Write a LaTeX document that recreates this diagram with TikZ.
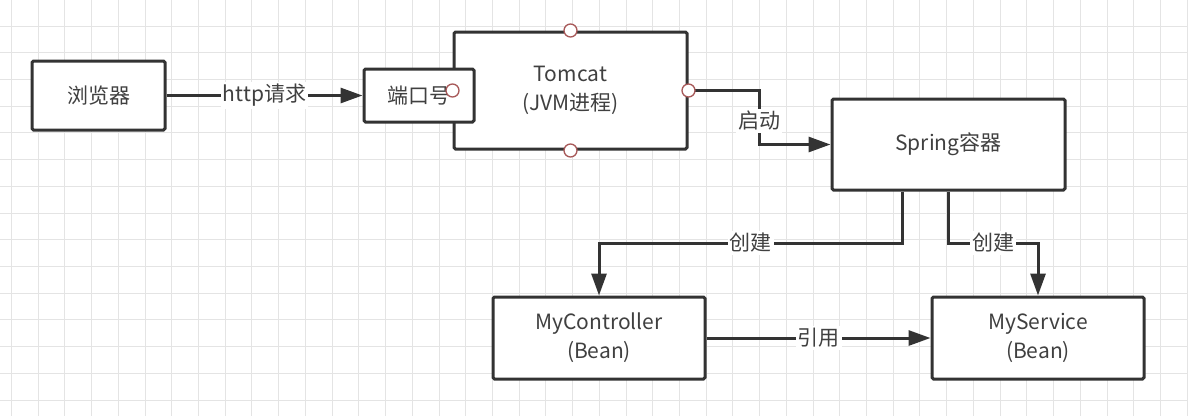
\documentclass[tikz,border=0pt]{standalone}
\usepackage{fontspec}
\setmainfont{Noto Sans CJK SC}
\usetikzlibrary{arrows.meta}
\definecolor{ink}{HTML}{333333}
\definecolor{txt}{HTML}{404040}
\definecolor{gridc}{HTML}{E4E4E4}
\definecolor{handle}{HTML}{A85A5A}
\begin{document}
\begin{tikzpicture}[x=1pt,y=-1pt,
  gridline/.style={draw=gridc,line width=1pt},
  box/.style={draw=ink,line width=3pt,fill=white,rounded corners=1.5pt,
    text=txt,font=\fontsize{21}{29}\selectfont,align=center,inner sep=0pt},
  conn/.style={draw=ink,line width=3pt,-{Triangle[length=22pt,width=15pt]}},
  lbl/.style={fill=white,text=txt,font=\fontsize{21}{24}\selectfont,inner sep=2pt},
  hnd/.style={circle,draw=handle,line width=1.3pt,fill=white,minimum size=13pt,inner sep=0pt}]
\useasboundingbox (0,0) rectangle (1188,416);
\fill[white] (0,0) rectangle (1188,416);
\foreach \i in {0,...,44} \draw[gridline] ({11.5+26.72*\i},0) -- ({11.5+26.72*\i},416);
\foreach \j in {0,...,15} \draw[gridline] (0,{-0.7+26.72*\j}) -- (1188,{-0.7+26.72*\j});

\node[box,minimum width=133pt,minimum height=69pt] (browser) at (98.5,95.5) {浏览器};
\node[box,minimum width=233pt,minimum height=117pt] (tomcat) at (570.5,90.5) {Tomcat\\(JVM进程)};
\node[box,minimum width=110pt,minimum height=53pt] (port) at (419,95.5) {端口号};
\node[box,minimum width=233pt,minimum height=91pt] (spring) at (948.5,144.5) {Spring容器};
\node[box,minimum width=212pt,minimum height=82pt] (ctrl) at (599,338) {MyController\\(Bean)};
\node[box,minimum width=212pt,minimum height=82pt] (svc) at (1038,338) {MyService\\(Bean)};

\coordinate (k1) at (759,121);
\coordinate (c1) at (902,243);
\coordinate (c2) at (948,243);

\draw[conn] (browser) -- node[lbl]{http请求} (port);
\draw[conn] (tomcat.east) -| (k1) |- (spring.west);
\node[lbl] at (k1) {启动};
\draw[conn] (spring.south -| c1) -- (c1) -| node[lbl,pos=0.25]{创建} (ctrl.north);
\draw[conn] (spring.south -| c2) -- (c2) -| node[lbl,pos=0.25]{创建} (svc.north);
\draw[conn] (ctrl) -- node[lbl]{引用} (svc);

\node[hnd] (h1) at (tomcat.north) {};
\node[hnd] (h2) at (tomcat.south) {};
\node[hnd] (h3) at (tomcat.east) {};
\node[hnd] (h4) at (tomcat.west) {};
\end{tikzpicture}
\end{document}
